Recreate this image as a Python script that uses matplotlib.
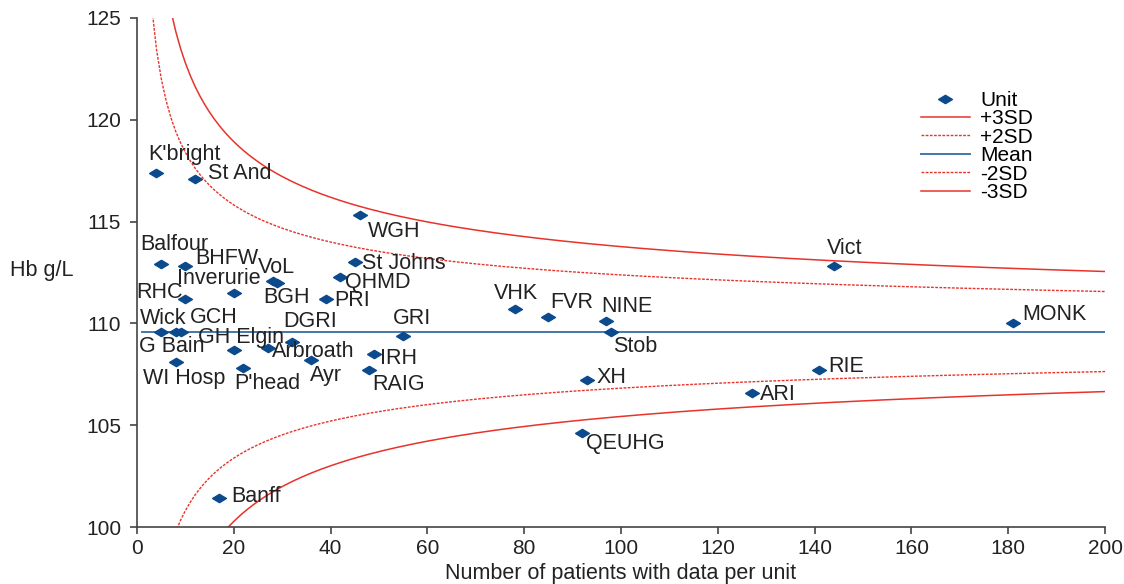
import numpy as np
import matplotlib
matplotlib.use("Agg")
import matplotlib.pyplot as plt
import matplotlib.ticker as ticker

plt.rcParams['font.family'] = ['Liberation Sans', 'DejaVu Sans']

# units: name, patients, mean Hb
units = ["K'bright", "St And", "WGH", "Balfour", "BHFW", "Inverurie", "VoL", "BGH",
         "St Johns", "QHMD", "RHC", "PRI", "Wick", "G Bain", "GCH", "WI Hosp",
         "GH Elgin", "P'head", "Arbroath", "DGRI", "Ayr", "IRH", "RAIG", "GRI",
         "Banff", "VHK", "FVR", "NINE", "Stob", "XH", "QEUHG", "Vict", "MONK",
         "RIE", "ARI"]
patients = [4, 12, 46, 5, 10, 20, 28, 29,
            45, 42, 10, 39, 5, 8, 9, 8,
            20, 22, 27, 32, 36, 49, 48, 55,
            17, 78, 85, 97, 98, 93, 92, 144, 181,
            141, 127]
hb = [117.4, 117.1, 115.3, 112.9, 112.8, 111.5, 112.1, 112.0,
      113.0, 112.3, 111.2, 111.2, 109.6, 109.6, 109.6, 108.1,
      108.7, 107.8, 108.8, 109.1, 108.2, 108.5, 107.7, 109.4,
      101.4, 110.7, 110.3, 110.1, 109.6, 107.2, 104.6, 112.8, 110.0,
      107.7, 106.6]

# funnel control limits
hb_mean = 109.6
hb_sd = 13.9
n_max = 200

# label offsets in pixels (left edge, vertical centre) relative to each point
label_offsets = {
    "K'bright": (-8, 18), "St And": (13, 5), "WGH": (8, -16), "Balfour": (-21, 20),
    "BHFW": (10, 8), "Inverurie": (-57, 14), "VoL": (-15, 13), "BGH": (-14, -15),
    "St Johns": (7, -1), "QHMD": (5, -6), "RHC": (-49, 6), "PRI": (8, -2),
    "Wick": (-21, 13), "G Bain": (-37, -15), "GCH": (9, 14), "WI Hosp": (-33, -16),
    "GH Elgin": (-36, 12), "P'head": (-9, -15), "Arbroath": (4, -4), "DGRI": (-9, 20),
    "Ayr": (-1, -15), "IRH": (6, -5), "RAIG": (3, -14), "GRI": (-10, 17),
    "Banff": (12, 2), "VHK": (-21, 16), "FVR": (2, 15), "NINE": (-5, 15),
    "Stob": (2, -15), "XH": (9, 3), "QEUHG": (4, -10), "Vict": (-7, 18),
    "MONK": (9, 9), "RIE": (9, 4), "ARI": (8, -2),
}

red = '#e8332b'
blue_pt = '#0b4a8c'
blue_line = '#4377a8'
txt = '#222222'
diamond = [(-1, 0), (0, 0.6), (1, 0), (0, -0.6), (-1, 0)]

fig = plt.figure(figsize=(11.24, 5.84), dpi=100)
ax = fig.add_axes([0.1219, 0.0976, 0.8612, 0.8716])

n = np.arange(1, n_max + 1)
se = hb_sd / np.sqrt(n)

ax.plot(patients, hb, linestyle='none', marker=diamond, markersize=10,
        color=blue_pt, label='Unit', zorder=3)
ax.plot(n, hb_mean + 3 * se, color=red, lw=1.1, label='+3SD')
ax.plot(n, hb_mean + 2 * se, color=red, lw=1.0, ls=(0, (2, 1)), label='+2SD')
ax.plot(n, np.full(n.shape, hb_mean), color=blue_line, lw=1.4, label='Mean')
ax.plot(n, hb_mean - 2 * se, color=red, lw=1.0, ls=(0, (2, 1)), label='-2SD')
ax.plot(n, hb_mean - 3 * se, color=red, lw=1.1, label='-3SD')

for name, x, y in zip(units, patients, hb):
    dx, dy = label_offsets[name]
    ax.annotate(name, (x, y), xytext=(dx, dy), textcoords='offset pixels',
                ha='left', va='center', fontsize=15.5, color=txt)

ax.set_xlim(0, 200)
ax.set_ylim(100, 125)
ax.xaxis.set_major_locator(ticker.MultipleLocator(20))
ax.yaxis.set_major_locator(ticker.MultipleLocator(5))

for side in ['top', 'right']:
    ax.spines[side].set_visible(False)
for side in ['left', 'bottom']:
    ax.spines[side].set_color('#444444')
    ax.spines[side].set_linewidth(1.2)
ax.tick_params(direction='out', length=5, width=1.2, color='#444444',
               labelsize=15, labelcolor=txt)
ax.tick_params(axis='y', pad=6.5)

ax.set_xlabel('Number of patients with data per unit', fontsize=15.5, color=txt,
              labelpad=4)
ax.set_ylabel('Hb g/L', rotation=0, fontsize=15.5, color=txt, ha='left', va='center')
ax.yaxis.set_label_coords(-0.131, 0.503)

ax.legend(loc='upper left', bbox_to_anchor=(0.799, 0.877), frameon=False, fontsize=15,
          handlelength=2.35, labelspacing=-0.03, handletextpad=0.5, borderpad=0)

fig.savefig('out.png', dpi=100)
